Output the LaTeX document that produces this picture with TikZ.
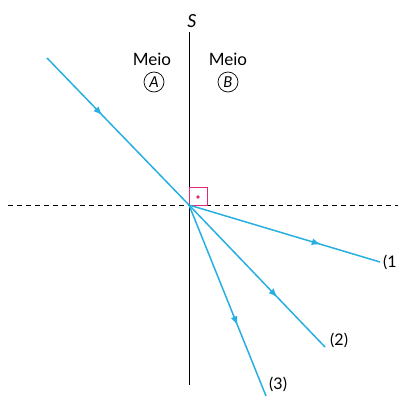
\documentclass[tikz,border=0pt]{standalone}
\usepackage{fontspec}
\setmainfont{Lato}
\usetikzlibrary{decorations.markings,arrows.meta}
\definecolor{ray}{RGB}{40,175,225}
\definecolor{mag}{RGB}{225,40,120}
\begin{document}
\begin{tikzpicture}[x=1pt,y=-1pt,
  raystyle/.style={draw=ray,line width=1.5pt},
  mid/.style={postaction={decorate},decoration={markings,mark=at position #1 with {\arrow[ray]{Latex[length=9pt,width=7pt]}}}},
  lbl/.style={font=\fontsize{16}{16}\selectfont,inner sep=0pt},
  meio/.style={font=\fontsize{17}{17}\selectfont,inner sep=0pt},
  circ/.style={draw,circle,minimum size=20pt,inner sep=0pt,line width=0.7pt,font=\fontsize{15}{15}\selectfont\itshape}]
\useasboundingbox (0,0) rectangle (398,396);
\coordinate (O) at (189,205);
\coordinate (Stop) at (189,32);
\coordinate (Sbot) at (189,385);
\coordinate (Hl) at (8,205);
\coordinate (Hr) at (398,205);
\coordinate (I) at (47,58);
\coordinate (E1) at (380,262);
\coordinate (E2) at (325,347);
\coordinate (E3) at (266,396);
\coordinate (Q) at (207,187);
\draw[line width=1pt] (Stop) -- (Sbot);
\draw[line width=0.9pt,dash pattern=on 5pt off 4pt] (Hl) -- (Hr);
\node[font=\fontsize{18}{18}\selectfont\itshape,inner sep=0pt] (S) at (192,21) {S};
\node[meio] (mA) at (152,59) {Meio};
\node[meio] (mB) at (228,59) {Meio};
\node[circ] (cA) at (154,82) {A};
\node[circ] (cB) at (228,82) {B};
\draw[draw=mag,line width=1pt] (O) rectangle (Q);
\fill[mag] (198,197) circle (1.8pt);
\draw[raystyle,mid=0.39] (I) -- (O);
\draw[raystyle,mid=0.69] (O) -- (E1);
\draw[raystyle,mid=0.65] (O) -- (E2);
\draw[raystyle,mid=0.63] (O) -- (E3);
\node[lbl,anchor=west] (L1) at (383,262) {(1};
\node[lbl,anchor=west] (L2) at (330,340) {(2)};
\node[lbl,anchor=west] (L3) at (269,384) {(3)};
\end{tikzpicture}
\end{document}
